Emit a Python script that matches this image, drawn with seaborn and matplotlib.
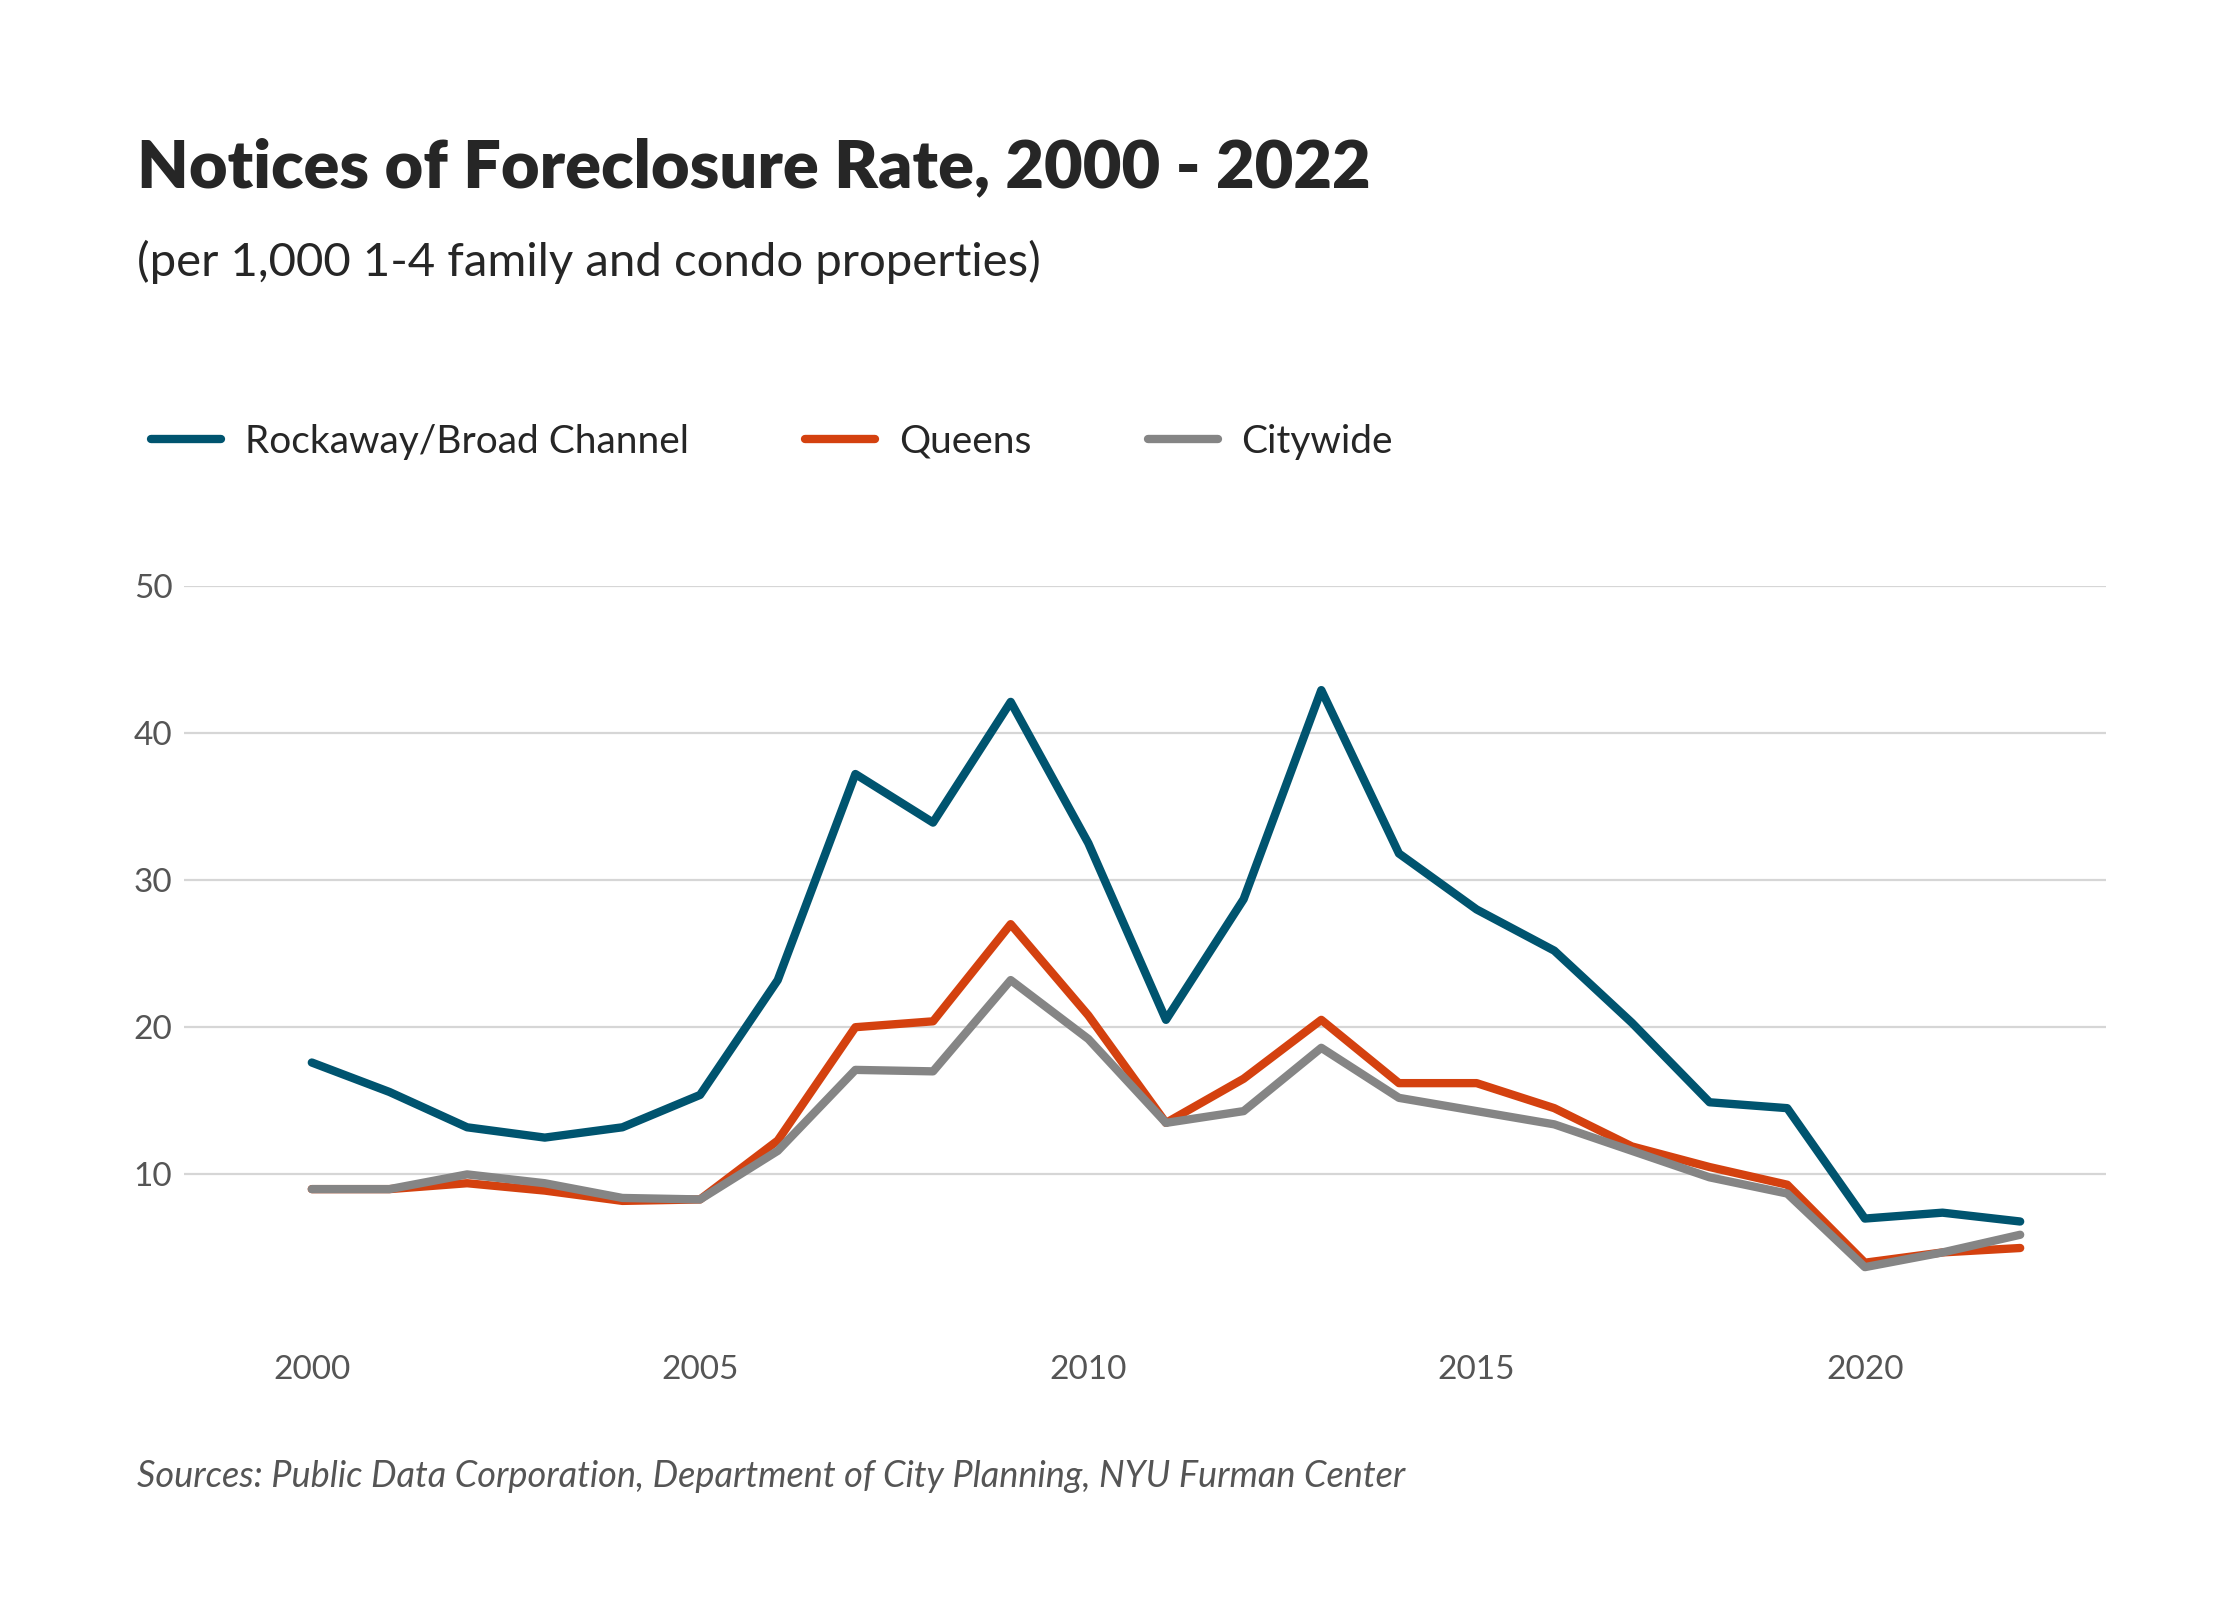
import pandas as pd
import seaborn as sns
import matplotlib.pyplot as plt

years = list(range(2000, 2023))
rockaway = [17.6, 15.6, 13.2, 12.5, 13.2, 15.4, 23.2, 37.2, 33.9, 42.1, 32.5, 20.5,
            28.7, 42.9, 31.8, 28.0, 25.2, 20.3, 14.9, 14.5, 7.0, 7.4, 6.8]
queens = [9.0, 9.0, 9.4, 8.9, 8.2, 8.3, 12.3, 20.0, 20.4, 27.0, 20.8, 13.5,
          16.5, 20.5, 16.2, 16.2, 14.5, 11.9, 10.5, 9.3, 4.0, 4.7, 5.0]
citywide = [9.0, 9.0, 10.0, 9.4, 8.4, 8.3, 11.6, 17.1, 17.0, 23.2, 19.2, 13.5,
            14.3, 18.6, 15.2, 14.3, 13.4, 11.6, 9.8, 8.7, 3.7, 4.7, 5.9]
series_names = ['Rockaway/Broad Channel', 'Queens', 'Citywide']
colors = ['#00546f', '#d4410f', '#858585']

df = pd.DataFrame({'Year': years * 3,
                   'Rate': rockaway + queens + citywide,
                   'Area': [n for n in series_names for _ in years]})

sns.set_theme(style="white")
plt.rcParams['font.family'] = ['Lato', 'DejaVu Sans']

fig = plt.figure(figsize=(11.2, 8), dpi=200)
ax = fig.add_axes([0.082, 0.174, 0.858, 0.460])
sns.lineplot(data=df, x='Year', y='Rate', hue='Area', palette=colors,
             linewidth=3.0, ax=ax, legend=False)

ax.set_xlim(1998.35, 2023.1)
ax.set_ylim(0, 50)
ax.set_yticks([10, 20, 30, 40, 50])
ax.set_xticks([2000, 2005, 2010, 2015, 2020])
ax.yaxis.grid(True, color='#d6d6d6', linewidth=0.8)
ax.set_axisbelow(True)
for s in ax.spines.values():
    s.set_visible(False)
ax.tick_params(axis='x', pad=12, labelsize=12, colors='#555555', length=0)
ax.tick_params(axis='y', labelsize=12, colors='#555555', length=0)
for lab in ax.get_yticklabels():
    lab.set_horizontalalignment('left')
ax.yaxis.set_tick_params(pad=18)
ax.set_xlabel('')
ax.set_ylabel('')

fig.text(0.061, 0.895, 'Notices of Foreclosure Rate, 2000 - 2022', fontsize=24,
         fontweight='heavy', va='center')
fig.text(0.061, 0.836, '(per 1,000 1-4 family and condo properties)', fontsize=17,
         va='center')
fig.text(0.061, 0.077, 'Sources: Public Data Corporation, Department of City Planning, NYU Furman Center',
         fontsize=13, style='italic', color='#555555', va='center')

handles = [plt.Line2D([], [], color=c, linewidth=3) for c in colors]
fig.legend(handles, series_names, loc='center left', bbox_to_anchor=(0.052, 0.724),
           ncol=3, frameon=False, fontsize=14, handlelength=1.8, columnspacing=3.0,
           handletextpad=0.6)

fig.savefig('out.png', dpi=200)
